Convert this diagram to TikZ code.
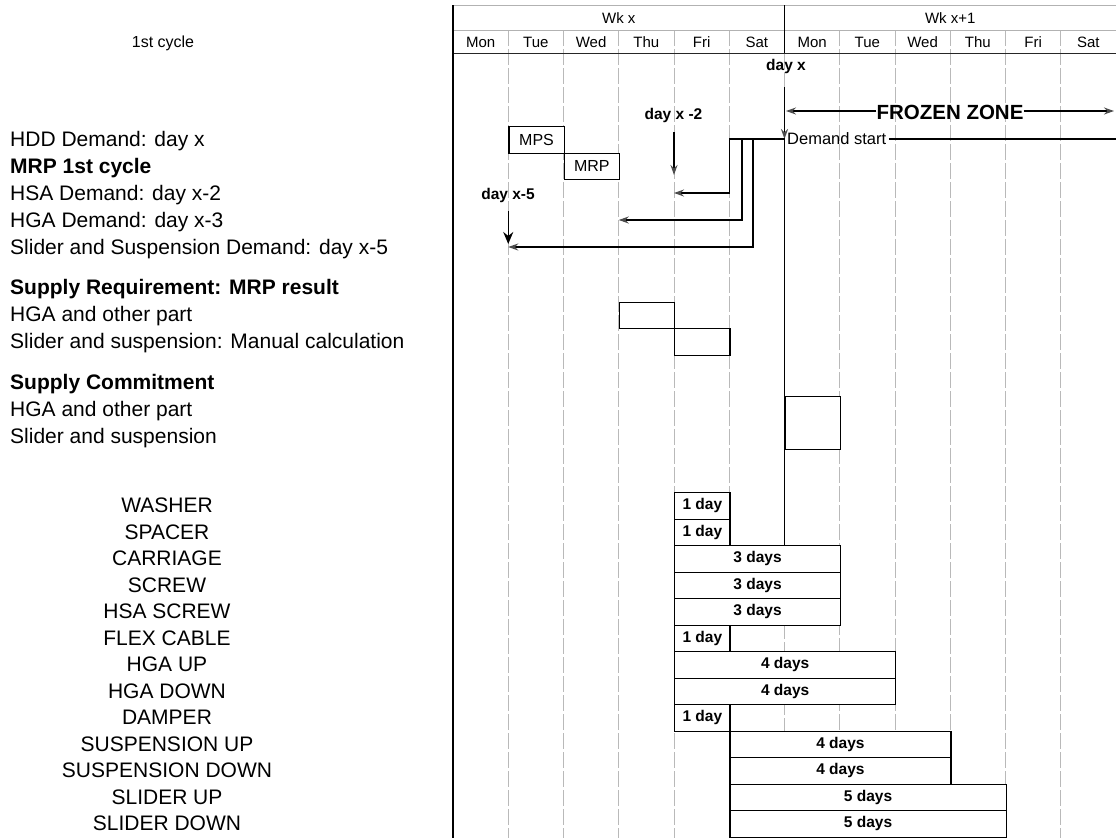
\documentclass[tikz,border=0pt]{standalone}
\usepackage{fontspec}
\setmainfont{Liberation Sans}
\usetikzlibrary{arrows.meta}
\newcommand{\fsz}[1]{\fontsize{#1}{#1}\selectfont}
\begin{document}
\begin{tikzpicture}[x=1pt,y=-1pt,
  txt/.style={inner sep=0pt, font=\fsz{21}},
  txtb/.style={inner sep=0pt, font=\fsz{21}\bfseries},
  hdr/.style={inner sep=0pt, font=\fsz{15}},
  lab/.style={inner sep=0pt, font=\fsz{15.5}\bfseries},
  box/.style={draw, line width=1.4pt, fill=white, inner sep=0pt, anchor=north west, minimum width=55.25pt, minimum height=26.5pt, font=\fsz{16}},
  bar/.style={box, font=\fsz{15.5}\bfseries},
  gridln/.style={gray!55, line width=0.7pt, dash pattern=on 16pt off 3pt},
  arr/.style={line width=1.3pt, -{Stealth[length=10pt,width=7pt,color=gray!60!black]}},
  arrk/.style={line width=1.5pt, -{Stealth[length=12pt,width=10pt]}}
]
\fill[white] (0,0) rectangle (1116,838);
\path[use as bounding box] (0,0) rectangle (1116,838);

% grid lines
\foreach \k in {1,...,5,7,8,9,10,11}
  \draw[gridln] ({453+55.25*\k},30) -- ({453+55.25*\k},838);
\draw[gridln] (784.5,53) -- (784.5,838);

% header frame
\draw[gray!60, line width=1pt] (453,5) -- (1116,5);
\draw[gray!60, line width=1pt] (453,30) -- (1116,30);
\draw[black!85, line width=1pt] (453,53) -- (1116,53);
\draw[line width=1.8pt] (453,5) -- (453,838);
\draw[line width=1.6pt] (784.5,5) -- (784.5,53);

\node[hdr, anchor=base] (wk1) at (618.75,23.5) {Wk x};
\node[hdr, anchor=base] (wk2) at (950.25,23.5) {Wk x+1};
\foreach \d [count=\i from 0] in {Mon,Tue,Wed,Thu,Fri,Sat,Mon,Tue,Wed,Thu,Fri,Sat}
  \node[hdr, anchor=base] (day\i) at ({453+55.25*(\i+0.5)},47.4) {\d};

% left texts
\node[inner sep=0pt, font=\fsz{16}, anchor=base] (cyc) at (163,47.7) {1st cycle};
\node[txt, anchor=base west] (hdd) at (10,146.5) {HDD Demand: day x};
\node[txtb, anchor=base west] (mrp1) at (10,173.5) {MRP 1st cycle};
\node[txt, anchor=base west] (hsa) at (10,200.5) {HSA Demand: day x-2};
\node[txt, anchor=base west] (hga) at (10,227.5) {HGA Demand: day x-3};
\node[txt, anchor=base west] (sld) at (10,254.5) {Slider and Suspension Demand: day x-5};
\node[txtb, anchor=base west] (sr) at (10,294.5) {Supply Requirement: MRP result};
\node[txt, anchor=base west] (sr1) at (10,321.5) {HGA and other part};
\node[txt, anchor=base west] (sr2) at (10,348.5) {Slider and suspension: Manual calculation};
\node[txtb, anchor=base west] (sc) at (10,389.5) {Supply Commitment};
\node[txt, anchor=base west] (sc1) at (10,416.5) {HGA and other part};
\node[txt, anchor=base west] (sc2) at (10,443.5) {Slider and suspension};

\foreach \n [count=\i from 0] in {WASHER,SPACER,CARRIAGE,SCREW,HSA SCREW,FLEX CABLE,HGA UP,HGA DOWN,DAMPER,SUSPENSION UP,SUSPENSION DOWN,SLIDER UP,SLIDER DOWN}
  \node[txt, anchor=base] (comp\i) at (167,{512.75+26.5*\i}) {\n};

% MPS / MRP boxes
\node[box] (mps) at (508.25,126) {MPS};
\node[box] (mrp) at (563.5,152.5) {MRP};

% supply requirement / commitment boxes
\node[box] (reqA) at (618.75,301.5) {};
\node[box] (reqB) at (674,328) {};
\node[box, minimum height=53pt] (com) at (784.5,396) {};

% bars
\foreach \i/\k/\n/\t in {0/4/1/1 day,1/4/1/1 day,2/4/3/3 days,3/4/3/3 days,4/4/3/3 days,5/4/1/1 day,6/4/4/4 days,7/4/4/4 days,8/4/1/1 day,9/5/4/4 days,10/5/4/4 days,11/5/5/5 days,12/5/5/5 days}
  \node[bar, minimum width={55.25*\n}] (bar\i) at ({453+55.25*\k},{492+26.5*\i}) {\t};

% day x line, demand start
\node[lab] (dayx) at (786,66) {day x};
\coordinate (fzTop) at (784.5,87);
\coordinate (ds) at (784.5,139);
\draw[arr, line width=1.8pt] (fzTop) -- (ds);
\draw[line width=1.8pt] (ds) -- (ds |- bar2.north);
\node[inner sep=2.5pt, anchor=west, font=\fsz{16.5}] (dst) at (ds) {Demand start};
\coordinate (dsEnd) at (1116,139);
\draw[line width=1.6pt] (dst.east) -- (dsEnd);

% frozen zone
\node[inner sep=0pt, font=\fsz{20.5}\bfseries] (fz) at (950,112) {FROZEN ZONE};
\coordinate (fzL) at (786,111);
\coordinate (fzR) at (1114,111);
\draw[arr] (fz.west |- fzL) -- (fzL);
\draw[arr] (fz.east |- fzR) -- (fzR);

% branch arrows from demand start
\coordinate (c1) at (729.25,139);
\coordinate (c2) at (742,139);
\coordinate (c3) at (753,139);
\coordinate (tFri) at (674,193);
\coordinate (tThu) at (618.75,220);
\coordinate (tTue) at (508.25,247);
\draw[line width=1.6pt] (c1) -- (ds);
\draw[arr] (c1) |- (tFri);
\draw[arr] (c2) |- (tThu);
\draw[arr] (c3) |- (tTue);

% day x -2
\node[lab] (dx2) at (673.5,115) {day x -2};
\coordinate (dx2s) at (674,132);
\coordinate (dx2e) at (674,175);
\draw[arr] (dx2s) -- (dx2e);

% day x-5
\node[lab] (dx5) at (508,195) {day x-5};
\coordinate (dx5s) at (508.25,211);
\coordinate (dx5e) at (508.25,244);
\draw[arrk] (dx5s) -- (dx5e);
\end{tikzpicture}
\end{document}
